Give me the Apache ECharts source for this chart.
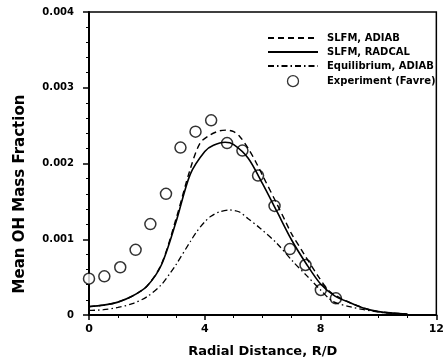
<!DOCTYPE html>
<html>
<head>
<meta charset="utf-8">
<script src="https://cdn.jsdelivr.net/npm/echarts@6/dist/echarts.min.js"></script>
<style>
html,body{margin:0;padding:0;background:#fff;}
#chart{width:447px;height:364px;}
</style>
</head>
<body>
<div id="chart"></div>
<script>
// Experiment (Favre)
const expR  = [0, 0.53, 1.08, 1.61, 2.12, 2.66, 3.16, 3.68, 4.22, 4.77, 5.30, 5.84, 6.41, 6.94, 7.48, 8.01, 8.53];
const expOH = [0.00048, 0.00051, 0.00063, 0.00086, 0.00120, 0.00160, 0.00221, 0.00242, 0.00257, 0.00227, 0.00217, 0.00184, 0.00144, 0.00087, 0.00066, 0.00033, 0.00022];

// SLFM, RADCAL (solid)
const radR  = [0, 0.5, 1.0, 1.5, 2.0, 2.5, 3.0, 3.5, 4.0, 4.3, 4.7, 5.0, 5.5, 6.0, 6.5, 7.0, 7.5, 8.0, 8.5, 9.0, 9.5, 10, 10.5, 11];
const radOH = [0.00011, 0.00013, 0.00017, 0.00025, 0.00038, 0.00066, 0.00122, 0.00186, 0.00216, 0.00224, 0.00228, 0.00225, 0.00207, 0.00173, 0.00136, 0.00099, 0.00068, 0.00041, 0.00025, 0.000165, 0.00009, 0.000045, 0.000025, 0.000012];

// SLFM, ADIAB (dashed)
const adR  = [0, 0.5, 1.0, 1.5, 2.0, 2.5, 3.0, 3.5, 3.84, 4.2, 4.5, 4.75, 5.0, 5.22, 5.5, 5.79, 6.0, 6.5, 6.77, 7.0, 7.34, 7.5, 7.92, 8.26, 8.5, 9.0, 9.5, 10, 10.5, 11];
const adOH = [0.00011, 0.00013, 0.00017, 0.00025, 0.00038, 0.00067, 0.00126, 0.00193, 0.00227, 0.00238, 0.00243, 0.00244, 0.00242, 0.00235, 0.00220, 0.00200, 0.00184, 0.00146, 0.00125, 0.00107, 0.00086, 0.00076, 0.00051, 0.00033, 0.00026, 0.000165, 0.00009, 0.000045, 0.000025, 0.000012];

// Equilibrium, ADIAB (dash-dot)
const eqR  = [0, 0.5, 1.0, 1.5, 2.0, 2.5, 2.8, 3.0, 3.5, 3.72, 4.0, 4.2, 4.5, 4.87, 5.2, 5.5, 5.9, 6.48, 7.06, 7.52, 8.0, 8.42, 9.0, 9.5, 10, 10.5, 11];
const eqOH = [0.00006, 0.00007, 0.00010, 0.00015, 0.00024, 0.00040, 0.00055, 0.00066, 0.00097, 0.00110, 0.00123, 0.00130, 0.00136, 0.001386, 0.00136, 0.00127, 0.00115, 0.00095, 0.00070, 0.00052, 0.00033, 0.00018, 0.00011, 0.00007, 0.00004, 0.00002, 0.00001];

const seriesNames = ['SLFM, ADIAB', 'SLFM, RADCAL', 'Equilibrium, ADIAB', 'Experiment (Favre)'];
const xTicks = {min: 0, max: 12, interval: 4};
const yTicks = {min: 0, max: 0.004, interval: 0.001};

const zip = (a, b) => a.map((v, i) => [v, b[i]]);
const FONT = 'DejaVu Sans';

const chart = echarts.init(document.getElementById('chart'), null, {renderer: 'canvas'});
chart.setOption({
  backgroundColor: '#fff',
  animation: false,
  grid: {left: 89, right: 10, top: 12, bottom: 49, show: true, borderColor: '#000', borderWidth: 1.5, backgroundColor: 'transparent'},
  legend: {
    orient: 'vertical',
    left: 262, top: 28,
    itemWidth: 50, itemHeight: 11, itemGap: 4,
    data: [
      {name: seriesNames[0], itemStyle: {opacity: 0}},
      {name: seriesNames[1], itemStyle: {opacity: 0}},
      {name: seriesNames[2], itemStyle: {opacity: 0}},
      {name: seriesNames[3], itemStyle: {color: '#fff', borderColor: '#000', borderWidth: 1.3}}
    ],
    textStyle: {fontFamily: FONT, fontWeight: 'bold', fontSize: 10, color: '#000', padding: [0, 0, 0, 4]},
    selectedMode: false
  },
  xAxis: {
    type: 'value', min: xTicks.min, max: xTicks.max, interval: xTicks.interval,
    name: 'Radial Distance, R/D', nameLocation: 'middle', nameGap: 30,
    nameTextStyle: {fontFamily: FONT, fontWeight: 'bold', fontSize: 13, color: '#000'},
    axisLine: {lineStyle: {color: '#000', width: 2}},
    axisTick: {show: true, inside: false, length: 5, lineStyle: {color: '#000', width: 1.5}},
    minorTick: {show: true, splitNumber: 4, length: 3, lineStyle: {color: '#000', width: 1}},
    axisLabel: {fontFamily: FONT, fontWeight: 'bold', fontSize: 11, color: '#000', margin: 9},
    splitLine: {show: false}
  },
  yAxis: {
    type: 'value', min: yTicks.min, max: yTicks.max, interval: yTicks.interval,
    axisLine: {onZero: false, lineStyle: {color: '#000', width: 2}},
    axisTick: {show: true, inside: false, length: 6, lineStyle: {color: '#000', width: 1.5}},
    minorTick: {show: true, splitNumber: 5, length: 3, lineStyle: {color: '#000', width: 1}},
    axisLabel: {fontFamily: FONT, fontWeight: 'bold', fontSize: 10, color: '#000', margin: 15,
      formatter: v => v === 0 ? '0' : v.toFixed(3)},
    splitLine: {show: false}
  },
  graphic: [{
    type: 'text', x: 20, y: 194, rotation: Math.PI / 2,
    style: {text: 'Mean OH Mass Fraction', fill: '#000', font: 'bold 15px "DejaVu Sans"', textAlign: 'center', textVerticalAlign: 'middle'}
  }],
  series: [
    {name: seriesNames[0], type: 'line', data: zip(adR, adOH), smooth: 0.3, symbol: 'none',
     lineStyle: {color: '#000', width: 1.4, type: [6, 4]}, itemStyle: {color: '#000'}},
    {name: seriesNames[1], type: 'line', data: zip(radR, radOH), smooth: 0.3, symbol: 'none',
     lineStyle: {color: '#000', width: 1.6, type: 'solid'}, itemStyle: {color: '#000'}},
    {name: seriesNames[2], type: 'line', data: zip(eqR, eqOH), smooth: 0.3, symbol: 'none',
     lineStyle: {color: '#000', width: 1.3, type: [6, 3, 1.5, 3]}, itemStyle: {color: '#000'}},
    {name: seriesNames[3], type: 'scatter', data: zip(expR, expOH), symbol: 'circle', symbolSize: 11,
     itemStyle: {color: '#fff', borderColor: '#000', borderWidth: 1.5}}
  ]
});
</script>
</body>
</html>
